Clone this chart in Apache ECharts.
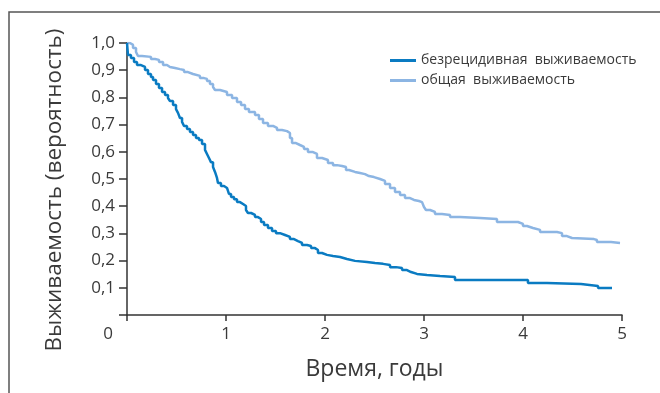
<!DOCTYPE html>
<html>
<head>
<meta charset="utf-8">
<script src="https://cdn.jsdelivr.net/npm/echarts@6/dist/echarts.min.js"></script>
<style>
  html, body { margin: 0; padding: 0; background: #fff; }
  #chart { width: 660px; height: 393px; }
</style>
</head>
<body>
<div id="chart"></div>
<script>
// Kaplan–Meier estimates: event times (years) and survival probability after each step
const rfsName = 'безрецидивная  выживаемость';
const osName = 'общая  выживаемость';

const rfsTimes = [
  0, 0.010, 0.040, 0.071, 0.101, 0.141, 0.182, 0.212, 0.242, 0.263,
  0.293, 0.323, 0.354, 0.384, 0.414, 0.434, 0.465, 0.495, 0.515, 0.535,
  0.556, 0.576, 0.606, 0.636, 0.667, 0.697, 0.727, 0.758, 0.788, 0.808,
  0.828, 0.848, 0.869, 0.889, 0.909, 0.919, 0.949, 0.980, 1.010, 1.030,
  1.051, 1.081, 1.111, 1.141, 1.172, 1.202, 1.222, 1.253, 1.293, 1.323,
  1.354, 1.384, 1.424, 1.465, 1.505, 1.545, 1.596, 1.646, 1.687, 1.727,
  1.768, 1.818, 1.859, 1.899, 1.929, 1.970, 2.020, 2.081, 2.152, 2.222,
  2.303, 2.424, 2.505, 2.586, 2.657, 2.717, 2.778, 2.828, 2.869, 2.929,
  3.030, 3.162, 3.313, 4.050, 4.242, 4.586, 4.758, 4.899
];
const rfsValues = [
  1.000, 0.956, 0.945, 0.930, 0.919, 0.912, 0.901, 0.886, 0.875, 0.864,
  0.849, 0.835, 0.820, 0.809, 0.798, 0.787, 0.772, 0.757, 0.743, 0.724,
  0.710, 0.695, 0.684, 0.673, 0.662, 0.651, 0.643, 0.629, 0.607, 0.592,
  0.577, 0.562, 0.544, 0.526, 0.504, 0.485, 0.474, 0.467, 0.460, 0.445,
  0.434, 0.426, 0.415, 0.408, 0.401, 0.386, 0.375, 0.368, 0.360, 0.353,
  0.342, 0.331, 0.320, 0.309, 0.301, 0.294, 0.287, 0.279, 0.272, 0.265,
  0.257, 0.254, 0.246, 0.239, 0.228, 0.221, 0.217, 0.213, 0.206, 0.199,
  0.195, 0.191, 0.188, 0.184, 0.176, 0.173, 0.165, 0.158, 0.151, 0.147,
  0.143, 0.140, 0.129, 0.118, 0.114, 0.107, 0.099, 0.099
];

const osTimes = [
  0, 0.030, 0.061, 0.091, 0.111, 0.152, 0.242, 0.283, 0.323, 0.364,
  0.404, 0.434, 0.485, 0.535, 0.576, 0.616, 0.667, 0.737, 0.778, 0.808,
  0.838, 0.869, 0.889, 0.939, 1.010, 1.061, 1.111, 1.152, 1.192, 1.232,
  1.293, 1.333, 1.374, 1.424, 1.475, 1.515, 1.566, 1.616, 1.646, 1.667,
  1.707, 1.747, 1.788, 1.828, 1.879, 1.919, 1.970, 2.030, 2.081, 2.121,
  2.172, 2.212, 2.242, 2.303, 2.354, 2.404, 2.444, 2.495, 2.556, 2.606,
  2.657, 2.707, 2.758, 2.808, 2.859, 2.899, 2.949, 2.980, 3.000, 3.020,
  3.061, 3.111, 3.182, 3.263, 3.364, 3.566, 3.737, 3.949, 4.000, 4.040,
  4.101, 4.172, 4.343, 4.394, 4.444, 4.495, 4.717, 4.747, 4.889, 4.980
];
const osValues = [
  1.000, 0.993, 0.982, 0.967, 0.952, 0.949, 0.941, 0.938, 0.930, 0.919,
  0.912, 0.908, 0.904, 0.901, 0.893, 0.886, 0.879, 0.871, 0.868, 0.860,
  0.849, 0.838, 0.827, 0.820, 0.809, 0.798, 0.783, 0.772, 0.757, 0.746,
  0.735, 0.721, 0.706, 0.695, 0.688, 0.680, 0.676, 0.669, 0.651, 0.632,
  0.625, 0.618, 0.610, 0.599, 0.592, 0.577, 0.570, 0.559, 0.551, 0.548,
  0.544, 0.533, 0.526, 0.522, 0.518, 0.511, 0.507, 0.500, 0.493, 0.482,
  0.467, 0.452, 0.441, 0.430, 0.423, 0.419, 0.415, 0.412, 0.397, 0.386,
  0.379, 0.371, 0.368, 0.360, 0.357, 0.353, 0.342, 0.335, 0.327, 0.320,
  0.313, 0.305, 0.301, 0.290, 0.283, 0.279, 0.276, 0.268, 0.265, 0.265
];

const xTicks = [0, 1, 2, 3, 4, 5];
const yTickStep = 0.1;

const pairs = (ts, vs) => ts.map((t, i) => [t, vs[i]]);

const FONT = "'Open Sans', 'Noto Sans', sans-serif";
const TEXT = '#3a3a3a';
const AXIS = '#333333';
const RFS_COLOR = '#0a7bc2';
const OS_COLOR = '#8cb5e3';

const chart = echarts.init(document.getElementById('chart'), null, { renderer: 'canvas' });

chart.setOption({
  backgroundColor: '#ffffff',
  animation: false,
  textStyle: { fontFamily: FONT },
  graphic: [{
    type: 'polyline',
    shape: { points: [[9, 393], [9, 12], [660, 12]] },
    style: { stroke: '#555555', lineWidth: 1.5, fill: null },
    silent: true
  }],
  legend: {
    orient: 'vertical',
    left: 385,
    top: 48,
    icon: 'rect',
    itemWidth: 26,
    itemHeight: 3,
    itemGap: 5,
    textStyle: { fontFamily: FONT, fontSize: 14, color: TEXT, lineHeight: 15 },
    data: [rfsName, osName]
  },
  grid: { left: 127, right: 38, top: 43, bottom: 78, containLabel: false },
  xAxis: {
    type: 'value',
    min: xTicks[0],
    max: xTicks[xTicks.length - 1],
    interval: 1,
    name: 'Время, годы',
    nameLocation: 'middle',
    nameGap: 43,
    nameTextStyle: { fontFamily: FONT, fontSize: 23, color: TEXT },
    splitLine: { show: false },
    axisLine: { show: true, lineStyle: { color: AXIS, width: 1.5 } },
    axisTick: { show: true, length: 6, lineStyle: { color: AXIS, width: 1.5 } },
    axisLabel: {
      fontFamily: FONT, fontSize: 17, color: TEXT, margin: 11,
      formatter: v => v === 0 ? '{z|0}' : String(v),
      rich: { z: { fontFamily: FONT, fontSize: 17, color: TEXT, padding: [0, 38, 0, 0] } }
    }
  },
  yAxis: {
    type: 'value',
    min: 0,
    max: 1,
    interval: yTickStep,
    name: 'Выживаемость (вероятность)',
    nameLocation: 'middle',
    nameRotate: 90,
    nameGap: 61,
    nameTextStyle: { fontFamily: FONT, fontSize: 22.5, color: TEXT, padding: [0, 22, 0, 0] },
    splitLine: { show: false },
    axisLine: { show: true, lineStyle: { color: AXIS, width: 1.5 } },
    axisTick: { show: true, length: 8, lineStyle: { color: AXIS, width: 1.5 } },
    axisLabel: {
      fontFamily: FONT, fontSize: 17, color: TEXT, margin: 12,
      formatter: v => v === 0 ? '' : v.toFixed(1).replace('.', ',')
    }
  },
  series: [
    {
      name: rfsName,
      type: 'line',
      step: 'end',
      showSymbol: false,
      symbol: 'none',
      color: RFS_COLOR,
      lineStyle: { color: RFS_COLOR, width: 2.5 },
      data: pairs(rfsTimes, rfsValues),
      z: 3
    },
    {
      name: osName,
      type: 'line',
      step: 'end',
      showSymbol: false,
      symbol: 'none',
      color: OS_COLOR,
      lineStyle: { color: OS_COLOR, width: 2.5 },
      data: pairs(osTimes, osValues),
      z: 2
    }
  ]
});
</script>
</body>
</html>
